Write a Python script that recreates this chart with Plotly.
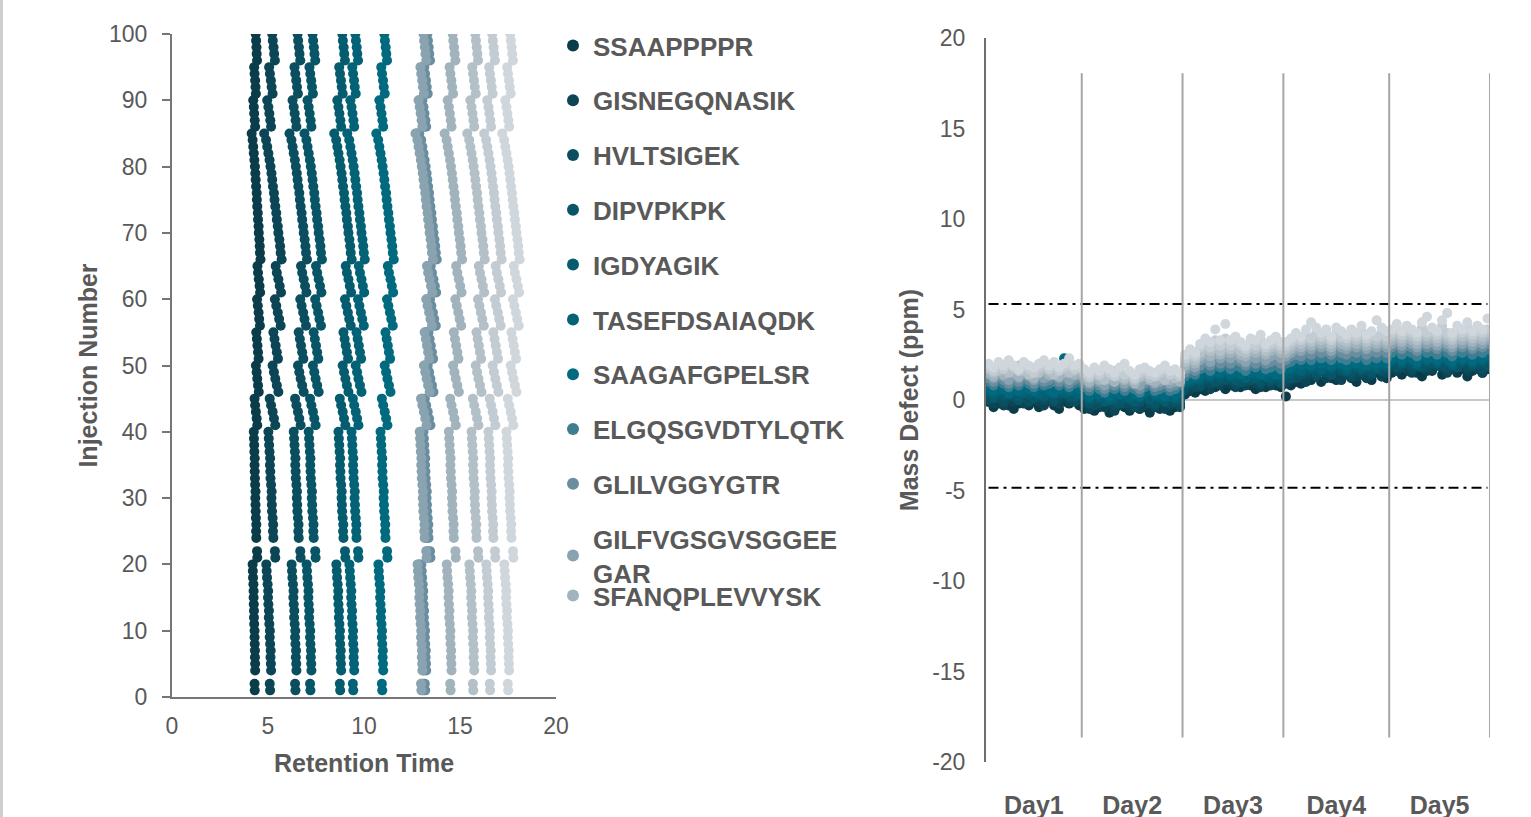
import plotly.graph_objects as go

# ---------------- categories / labels ----------------
peptides = ["SSAAPPPPR", "GISNEGQNASIK", "HVLTSIGEK", "DIPVPKPK", "IGDYAGIK",
            "TASEFDSAIAQDK", "SAAGAFGPELSR", "ELGQSGVDTYLQTK", "GLILVGGYGTR",
            "GILFVGSGVSGGEEGAR", "SFANQPLEVVYSK", "Peptide 12", "Peptide 13", "Peptide 14"]
legend_labels = ["SSAAPPPPR", "GISNEGQNASIK", "HVLTSIGEK", "DIPVPKPK", "IGDYAGIK",
                 "TASEFDSAIAQDK", "SAAGAFGPELSR", "ELGQSGVDTYLQTK", "GLILVGGYGTR",
                 "GILFVGSGVSGGEE<br>GAR", "SFANQPLEVVYSK", "Peptide 12", "Peptide 13", "Peptide 14"]
in_legend = [True, True, True, True, True, True, True, True, True, True, True, False, False, False]
legend_box = ["legend", "legend", "legend", "legend", "legend", "legend", "legend", "legend",
              "legend", "legend", "legend2", "legend", "legend", "legend"]
colors = ["#0b3c4a", "#0c4656", "#0a4e60", "#085567", "#065c6f", "#046277", "#026a7f",
          "#3d7e92", "#6a8e9f", "#8aa3b0", "#a1b3bd", "#b3c0c8", "#c2ccd2", "#d0d7dc"]

# injection numbers (left chart; injections 3 and 23 absent)
injection_rt = [1, 2, 4, 5, 6, 7, 8, 9, 10, 11, 12, 13, 14, 15, 16, 17, 18, 19, 20, 21, 22,
                24, 25, 26, 27, 28, 29, 30, 31, 32, 33, 34, 35, 36, 37, 38, 39, 40,
                41, 42, 43, 44, 45, 46, 47, 48, 49, 50, 51, 52, 53, 54, 55, 56, 57, 58, 59, 60,
                61, 62, 63, 64, 65, 66, 67, 68, 69, 70, 71, 72, 73, 74, 75, 76, 77, 78, 79, 80,
                81, 82, 83, 84, 85, 86, 87, 88, 89, 90, 91, 92, 93, 94, 95, 96, 97, 98, 99, 100]

# injection numbers (right chart)
injection_md = [1, 2, 3, 4, 5, 6, 7, 8, 9, 10, 11, 12, 13, 14, 15, 16, 17, 18, 19, 20,
                21, 22, 23, 24, 25, 26, 27, 28, 29, 30, 31, 32, 33, 34, 35, 36, 37, 38, 39, 40,
                41, 42, 43, 44, 45, 46, 47, 48, 49, 50, 51, 52, 53, 54, 55, 56, 57, 58, 59, 60,
                61, 62, 63, 64, 65, 66, 67, 68, 69, 70, 71, 72, 73, 74, 75, 76, 77, 78, 79, 80,
                81, 82, 83, 84, 85, 86, 87, 88, 89, 90, 91, 92, 93, 94, 95, 96, 97, 98, 99, 100]

# ---------------- retention times (min) ----------------
rt_1 = [4.31, 4.30,
        4.33, 4.33, 4.32, 4.32, 4.31, 4.30, 4.30, 4.28, 4.27, 4.27, 4.26, 4.25, 4.25, 4.24, 4.22, 4.21, 4.20,
        4.44, 4.43,
        4.39, 4.38, 4.39, 4.37, 4.36, 4.35, 4.34, 4.35, 4.33, 4.32, 4.31, 4.30, 4.31, 4.29, 4.28, 4.27, 4.26,
        4.44, 4.41, 4.37, 4.33, 4.30,
        4.52, 4.48, 4.44, 4.41, 4.37,
        4.51, 4.48, 4.45, 4.42, 4.39,
        4.58, 4.54, 4.51, 4.47, 4.43,
        4.59, 4.56, 4.52, 4.48, 4.45,
        4.61, 4.58, 4.57, 4.55, 4.52, 4.51, 4.48, 4.47, 4.44, 4.42, 4.41, 4.38, 4.36, 4.34, 4.32, 4.29, 4.26, 4.23, 4.20, 4.15,
        4.33, 4.31, 4.28, 4.26, 4.23,
        4.37, 4.35, 4.33, 4.30, 4.28,
        4.43, 4.41, 4.40, 4.38, 4.36]
rt_2 = [5.11, 5.09,
        5.16, 5.15, 5.13, 5.14, 5.11, 5.09, 5.10, 5.07, 5.04, 5.05, 5.02, 5.00, 5.01, 4.98, 4.95, 4.93, 4.91,
        5.38, 5.36,
        5.28, 5.26, 5.27, 5.24, 5.21, 5.20, 5.18, 5.19, 5.16, 5.13, 5.12, 5.10, 5.11, 5.08, 5.06, 5.04, 5.02,
        5.38, 5.31, 5.24, 5.16, 5.09,
        5.54, 5.46, 5.38, 5.31, 5.24,
        5.52, 5.46, 5.40, 5.34, 5.28,
        5.66, 5.58, 5.51, 5.43, 5.36,
        5.68, 5.61, 5.54, 5.46, 5.40,
        5.71, 5.66, 5.63, 5.59, 5.54, 5.51, 5.46, 5.43, 5.38, 5.34, 5.31, 5.26, 5.22, 5.18, 5.13, 5.08, 5.02, 4.96, 4.90, 4.80,
        5.16, 5.12, 5.07, 5.02, 4.96,
        5.24, 5.19, 5.15, 5.10, 5.06,
        5.36, 5.32, 5.29, 5.25, 5.22]
rt_3 = [6.43, 6.41,
        6.48, 6.47, 6.45, 6.46, 6.43, 6.41, 6.42, 6.39, 6.36, 6.37, 6.34, 6.32, 6.33, 6.30, 6.27, 6.25, 6.23,
        6.70, 6.68,
        6.60, 6.58, 6.59, 6.56, 6.53, 6.52, 6.50, 6.51, 6.48, 6.45, 6.44, 6.42, 6.43, 6.40, 6.38, 6.36, 6.34,
        6.70, 6.63, 6.56, 6.48, 6.41,
        6.86, 6.78, 6.70, 6.63, 6.56,
        6.84, 6.78, 6.72, 6.66, 6.60,
        6.98, 6.90, 6.83, 6.75, 6.68,
        7.00, 6.93, 6.86, 6.78, 6.72,
        7.03, 6.98, 6.95, 6.91, 6.86, 6.83, 6.78, 6.75, 6.70, 6.66, 6.63, 6.58, 6.54, 6.50, 6.45, 6.40, 6.34, 6.28, 6.22, 6.12,
        6.48, 6.44, 6.39, 6.34, 6.28,
        6.56, 6.51, 6.47, 6.42, 6.38,
        6.68, 6.64, 6.61, 6.57, 6.54]
rt_4 = [7.21, 7.19,
        7.26, 7.25, 7.23, 7.24, 7.21, 7.19, 7.20, 7.17, 7.14, 7.15, 7.12, 7.10, 7.11, 7.08, 7.05, 7.03, 7.01,
        7.48, 7.46,
        7.38, 7.36, 7.37, 7.34, 7.31, 7.30, 7.28, 7.29, 7.26, 7.23, 7.22, 7.20, 7.21, 7.18, 7.16, 7.14, 7.12,
        7.48, 7.41, 7.34, 7.26, 7.19,
        7.64, 7.56, 7.48, 7.41, 7.34,
        7.62, 7.56, 7.50, 7.44, 7.38,
        7.76, 7.68, 7.61, 7.53, 7.46,
        7.78, 7.71, 7.64, 7.56, 7.50,
        7.81, 7.76, 7.73, 7.69, 7.64, 7.61, 7.56, 7.53, 7.48, 7.44, 7.41, 7.36, 7.32, 7.28, 7.23, 7.18, 7.12, 7.06, 7.00, 6.90,
        7.26, 7.22, 7.17, 7.12, 7.06,
        7.34, 7.29, 7.25, 7.20, 7.16,
        7.46, 7.42, 7.39, 7.35, 7.32]
rt_5 = [8.76, 8.74,
        8.81, 8.80, 8.78, 8.79, 8.76, 8.74, 8.75, 8.72, 8.69, 8.70, 8.67, 8.65, 8.66, 8.63, 8.60, 8.58, 8.56,
        9.03, 9.01,
        8.93, 8.91, 8.92, 8.89, 8.86, 8.85, 8.83, 8.84, 8.81, 8.78, 8.77, 8.75, 8.76, 8.73, 8.71, 8.69, 8.67,
        9.03, 8.96, 8.89, 8.81, 8.74,
        9.19, 9.11, 9.03, 8.96, 8.89,
        9.17, 9.11, 9.05, 8.99, 8.93,
        9.31, 9.23, 9.16, 9.08, 9.01,
        9.33, 9.26, 9.19, 9.11, 9.05,
        9.36, 9.31, 9.28, 9.24, 9.19, 9.16, 9.11, 9.08, 9.03, 8.99, 8.96, 8.91, 8.87, 8.83, 8.78, 8.73, 8.67, 8.61, 8.55, 8.45,
        8.81, 8.77, 8.72, 8.67, 8.61,
        8.89, 8.84, 8.80, 8.75, 8.71,
        9.01, 8.97, 8.94, 8.90, 8.87]
rt_6 = [9.44, 9.42,
        9.49, 9.48, 9.46, 9.47, 9.44, 9.42, 9.43, 9.40, 9.37, 9.38, 9.35, 9.33, 9.34, 9.31, 9.28, 9.26, 9.24,
        9.71, 9.69,
        9.61, 9.59, 9.60, 9.57, 9.54, 9.53, 9.51, 9.52, 9.49, 9.46, 9.45, 9.43, 9.44, 9.41, 9.39, 9.37, 9.35,
        9.71, 9.64, 9.57, 9.49, 9.42,
        9.87, 9.79, 9.71, 9.64, 9.57,
        9.85, 9.79, 9.73, 9.67, 9.61,
        9.99, 9.91, 9.84, 9.76, 9.69,
        10.01, 9.94, 9.87, 9.79, 9.73,
        10.04, 9.99, 9.96, 9.92, 9.87, 9.84, 9.79, 9.76, 9.71, 9.67, 9.64, 9.59, 9.55, 9.51, 9.46, 9.41, 9.35, 9.29, 9.23, 9.13,
        9.49, 9.45, 9.40, 9.35, 9.29,
        9.57, 9.52, 9.48, 9.43, 9.39,
        9.69, 9.65, 9.62, 9.58, 9.55]
rt_7 = [10.95, 10.93,
        11.00, 10.99, 10.97, 10.98, 10.95, 10.93, 10.94, 10.91, 10.88, 10.89, 10.86, 10.84, 10.85, 10.82, 10.79, 10.77, 10.75,
        11.22, 11.20,
        11.12, 11.10, 11.11, 11.08, 11.05, 11.04, 11.02, 11.03, 11.00, 10.97, 10.96, 10.94, 10.95, 10.92, 10.90, 10.88, 10.86,
        11.22, 11.15, 11.08, 11.00, 10.93,
        11.38, 11.30, 11.22, 11.15, 11.08,
        11.36, 11.30, 11.24, 11.18, 11.12,
        11.50, 11.42, 11.35, 11.27, 11.20,
        11.52, 11.45, 11.38, 11.30, 11.24,
        11.55, 11.50, 11.47, 11.43, 11.38, 11.35, 11.30, 11.27, 11.22, 11.18, 11.15, 11.10, 11.06, 11.02, 10.97, 10.92, 10.86, 10.80, 10.74, 10.64,
        11.00, 10.96, 10.91, 10.86, 10.80,
        11.08, 11.03, 10.99, 10.94, 10.90,
        11.20, 11.16, 11.13, 11.09, 11.06]
rt_8 = [13.06, 13.04,
        13.11, 13.10, 13.08, 13.09, 13.06, 13.04, 13.05, 13.02, 12.99, 13.00, 12.97, 12.95, 12.96, 12.93, 12.90, 12.88, 12.86,
        13.33, 13.31,
        13.23, 13.21, 13.22, 13.19, 13.16, 13.15, 13.13, 13.14, 13.11, 13.08, 13.07, 13.05, 13.06, 13.03, 13.01, 12.99, 12.97,
        13.33, 13.26, 13.19, 13.11, 13.04,
        13.49, 13.41, 13.33, 13.26, 13.19,
        13.47, 13.41, 13.35, 13.29, 13.23,
        13.61, 13.53, 13.46, 13.38, 13.31,
        13.63, 13.56, 13.49, 13.41, 13.35,
        13.66, 13.61, 13.58, 13.54, 13.49, 13.46, 13.41, 13.38, 13.33, 13.29, 13.26, 13.21, 13.17, 13.13, 13.08, 13.03, 12.97, 12.91, 12.85, 12.75,
        13.11, 13.07, 13.02, 12.97, 12.91,
        13.19, 13.14, 13.10, 13.05, 13.01,
        13.31, 13.27, 13.24, 13.20, 13.17]
rt_9 = [13.19, 13.17,
        13.24, 13.23, 13.21, 13.22, 13.19, 13.17, 13.18, 13.15, 13.12, 13.13, 13.10, 13.08, 13.09, 13.06, 13.03, 13.01, 12.99,
        13.46, 13.44,
        13.36, 13.34, 13.35, 13.32, 13.29, 13.28, 13.26, 13.27, 13.24, 13.21, 13.20, 13.18, 13.19, 13.16, 13.14, 13.12, 13.10,
        13.46, 13.39, 13.32, 13.24, 13.17,
        13.62, 13.54, 13.46, 13.39, 13.32,
        13.60, 13.54, 13.48, 13.42, 13.36,
        13.74, 13.66, 13.59, 13.51, 13.44,
        13.76, 13.69, 13.62, 13.54, 13.48,
        13.79, 13.74, 13.71, 13.67, 13.62, 13.59, 13.54, 13.51, 13.46, 13.42, 13.39, 13.34, 13.30, 13.26, 13.21, 13.16, 13.10, 13.04, 12.98, 12.88,
        13.24, 13.20, 13.15, 13.10, 13.04,
        13.32, 13.27, 13.23, 13.18, 13.14,
        13.44, 13.40, 13.37, 13.33, 13.30]
rt_10 = [12.99, 12.97,
         13.04, 13.03, 13.01, 13.02, 12.99, 12.97, 12.98, 12.95, 12.92, 12.93, 12.90, 12.88, 12.89, 12.86, 12.83, 12.81, 12.79,
         13.26, 13.24,
         13.16, 13.14, 13.15, 13.12, 13.09, 13.08, 13.06, 13.07, 13.04, 13.01, 13.00, 12.98, 12.99, 12.96, 12.94, 12.92, 12.90,
         13.26, 13.19, 13.12, 13.04, 12.97,
         13.42, 13.34, 13.26, 13.19, 13.12,
         13.40, 13.34, 13.28, 13.22, 13.16,
         13.54, 13.46, 13.39, 13.31, 13.24,
         13.56, 13.49, 13.42, 13.34, 13.28,
         13.59, 13.54, 13.51, 13.47, 13.42, 13.39, 13.34, 13.31, 13.26, 13.22, 13.19, 13.14, 13.10, 13.06, 13.01, 12.96, 12.90, 12.84, 12.78, 12.68,
         13.04, 13.00, 12.95, 12.90, 12.84,
         13.12, 13.07, 13.03, 12.98, 12.94,
         13.24, 13.20, 13.17, 13.13, 13.10]
rt_11 = [14.51, 14.49,
         14.56, 14.55, 14.53, 14.54, 14.51, 14.49, 14.50, 14.47, 14.44, 14.45, 14.42, 14.40, 14.41, 14.38, 14.35, 14.33, 14.31,
         14.78, 14.76,
         14.68, 14.66, 14.67, 14.64, 14.61, 14.60, 14.58, 14.59, 14.56, 14.53, 14.52, 14.50, 14.51, 14.48, 14.46, 14.44, 14.42,
         14.78, 14.71, 14.64, 14.56, 14.49,
         14.94, 14.86, 14.78, 14.71, 14.64,
         14.92, 14.86, 14.80, 14.74, 14.68,
         15.06, 14.98, 14.91, 14.83, 14.76,
         15.08, 15.01, 14.94, 14.86, 14.80,
         15.11, 15.06, 15.03, 14.99, 14.94, 14.91, 14.86, 14.83, 14.78, 14.74, 14.71, 14.66, 14.62, 14.58, 14.53, 14.48, 14.42, 14.36, 14.30, 14.20,
         14.56, 14.52, 14.47, 14.42, 14.36,
         14.64, 14.59, 14.55, 14.50, 14.46,
         14.76, 14.72, 14.69, 14.65, 14.62]
rt_12 = [15.69, 15.67,
         15.74, 15.73, 15.71, 15.72, 15.69, 15.67, 15.68, 15.65, 15.62, 15.63, 15.60, 15.58, 15.59, 15.56, 15.53, 15.51, 15.49,
         15.96, 15.94,
         15.86, 15.84, 15.85, 15.82, 15.79, 15.78, 15.76, 15.77, 15.74, 15.71, 15.70, 15.68, 15.69, 15.66, 15.64, 15.62, 15.60,
         15.96, 15.89, 15.82, 15.74, 15.67,
         16.12, 16.04, 15.96, 15.89, 15.82,
         16.10, 16.04, 15.98, 15.92, 15.86,
         16.24, 16.16, 16.09, 16.01, 15.94,
         16.26, 16.19, 16.12, 16.04, 15.98,
         16.29, 16.24, 16.21, 16.17, 16.12, 16.09, 16.04, 16.01, 15.96, 15.92, 15.89, 15.84, 15.80, 15.76, 15.71, 15.66, 15.60, 15.54, 15.48, 15.38,
         15.74, 15.70, 15.65, 15.60, 15.54,
         15.82, 15.77, 15.73, 15.68, 15.64,
         15.94, 15.90, 15.87, 15.83, 15.80]
rt_13 = [16.57, 16.55,
         16.62, 16.61, 16.59, 16.60, 16.57, 16.55, 16.56, 16.53, 16.50, 16.51, 16.48, 16.46, 16.47, 16.44, 16.41, 16.39, 16.37,
         16.84, 16.82,
         16.74, 16.72, 16.73, 16.70, 16.67, 16.66, 16.64, 16.65, 16.62, 16.59, 16.58, 16.56, 16.57, 16.54, 16.52, 16.50, 16.48,
         16.84, 16.77, 16.70, 16.62, 16.55,
         17.00, 16.92, 16.84, 16.77, 16.70,
         16.98, 16.92, 16.86, 16.80, 16.74,
         17.12, 17.04, 16.97, 16.89, 16.82,
         17.14, 17.07, 17.00, 16.92, 16.86,
         17.17, 17.12, 17.09, 17.05, 17.00, 16.97, 16.92, 16.89, 16.84, 16.80, 16.77, 16.72, 16.68, 16.64, 16.59, 16.54, 16.48, 16.42, 16.36, 16.26,
         16.62, 16.58, 16.53, 16.48, 16.42,
         16.70, 16.65, 16.61, 16.56, 16.52,
         16.82, 16.78, 16.75, 16.71, 16.68]
rt_14 = [17.51, 17.49,
         17.56, 17.55, 17.53, 17.54, 17.51, 17.49, 17.50, 17.47, 17.44, 17.45, 17.42, 17.40, 17.41, 17.38, 17.35, 17.33, 17.31,
         17.78, 17.76,
         17.68, 17.66, 17.67, 17.64, 17.61, 17.60, 17.58, 17.59, 17.56, 17.53, 17.52, 17.50, 17.51, 17.48, 17.46, 17.44, 17.42,
         17.78, 17.71, 17.64, 17.56, 17.49,
         17.94, 17.86, 17.78, 17.71, 17.64,
         17.92, 17.86, 17.80, 17.74, 17.68,
         18.06, 17.98, 17.91, 17.83, 17.76,
         18.08, 18.01, 17.94, 17.86, 17.80,
         18.11, 18.06, 18.03, 17.99, 17.94, 17.91, 17.86, 17.83, 17.78, 17.74, 17.71, 17.66, 17.62, 17.58, 17.53, 17.48, 17.42, 17.36, 17.30, 17.20,
         17.56, 17.52, 17.47, 17.42, 17.36,
         17.64, 17.59, 17.55, 17.50, 17.46,
         17.76, 17.72, 17.69, 17.65, 17.62]

# ---------------- mass defect (ppm), Day1..Day5 ----------------
md_1 = [-0.1, -0.4, -0.2, 0.1, -0.3, -0.5, -0.2, 0.0, -0.3, -0.1, -0.4, -0.2, 0.1, -0.3, -0.5, -0.1, -0.2, 0.0, -0.3,
        -0.5, -0.2, -0.6, -0.4, -0.3, -0.7, -0.5, -0.2, -0.4, -0.6, -0.3, -0.5, -0.4, -0.7, -0.2, -0.5, -0.3, -0.6, -0.4, -0.2,
        0.3, 0.5, 0.4, 0.6, 0.5, 0.8, 0.7, 0.9, 0.6, 0.8, 1.0, 0.7, 0.9, 0.8, 0.6, 0.9, 0.7, 1.0, 0.8, 0.7,
        0.2, 0.8, 1.0, 0.9, 1.2, 1.1, 1.3, 1.0, 1.4, 1.2, 1.1, 1.3, 1.5, 1.2, 1.0, 1.4, 1.3, 1.1, 1.5, 1.3, 1.2,
        1.5, 1.7, 1.4, 1.6, 1.8, 1.5, 1.3, 1.7, 1.6, 1.9, 1.4, 1.6, 1.8, 1.5, 1.7, 1.3, 1.6, 1.8, 1.5, 1.7]
md_2 = [0.1, -0.2, 0.0, -0.3, 0.2, -0.1, 0.1, -0.2, 0.0, 0.3, -0.1, -0.3, 0.0, 0.2, -0.2, 0.1, -0.1, 0.2, 0.0,
        -0.2, -0.5, -0.1, -0.3, -0.4, -0.2, -0.6, -0.3, -0.1, -0.4, -0.2, -0.5, -0.3, -0.1, -0.4, -0.2, -0.5, -0.3, -0.2, -0.4,
        0.5, 0.6, 0.8, 0.7, 0.9, 0.6, 1.0, 0.8, 1.1, 0.9, 0.7, 1.0, 0.8, 1.1, 0.9, 0.7, 1.0, 0.8, 1.1, 0.9,
        0.9, 1.1, 1.3, 1.2, 1.0, 1.4, 1.3, 1.6, 1.2, 1.5, 1.3, 1.1, 1.4, 1.6, 1.3, 1.5, 1.2, 1.4, 1.7, 1.3, 1.5,
        1.8, 1.6, 1.9, 1.7, 1.5, 1.8, 2.0, 1.6, 1.7, 1.9, 1.8, 1.5, 1.7, 2.0, 1.8, 1.6, 1.9, 1.7, 1.5, 1.8]
md_3 = [0.0, 0.3, 0.1, -0.1, 0.2, 0.4, 0.0, 0.2, -0.1, 0.1, 0.3, 0.0, 0.2, -0.1, 0.1, 0.3, 0.1, -0.1, 0.2,
        -0.1, 0.0, -0.3, -0.2, 0.1, -0.1, -0.3, 0.0, -0.2, -0.1, -0.4, -0.1, 0.1, -0.2, -0.3, 0.0, -0.1, -0.2, 0.0, -0.3,
        0.6, 0.8, 0.7, 0.9, 1.1, 0.9, 1.2, 1.0, 1.3, 1.1, 0.9, 1.2, 1.0, 1.3, 1.1, 0.9, 1.2, 1.0, 1.1, 0.9,
        1.1, 1.3, 1.2, 1.5, 1.4, 1.6, 1.3, 1.7, 1.5, 1.4, 1.6, 1.8, 1.5, 1.3, 1.7, 1.5, 1.6, 1.4, 1.8, 1.6, 1.5,
        1.9, 2.1, 1.8, 2.0, 1.7, 1.9, 2.2, 1.8, 2.0, 1.9, 2.1, 1.7, 1.9, 2.2, 2.0, 1.8, 2.1, 1.9, 1.7, 2.0]
md_4 = [0.3, 0.1, 0.4, 0.2, 0.5, 0.2, 0.0, 0.3, 0.4, 0.1, 0.3, 0.5, 0.2, 0.0, 0.3, 0.4, 0.2, 0.5, 0.3,
        0.1, -0.2, 0.0, 0.2, -0.1, 0.1, 0.0, -0.2, 0.2, 0.0, 0.1, -0.1, 0.2, 0.0, -0.2, 0.1, 0.0, 0.2, -0.1, 0.1,
        0.7, 0.9, 1.0, 0.8, 1.1, 1.2, 1.0, 1.3, 1.1, 1.4, 1.2, 1.0, 1.3, 1.1, 1.2, 1.0, 1.3, 1.1, 1.2, 1.0,
        1.3, 1.2, 1.5, 1.4, 1.6, 1.8, 1.5, 1.7, 1.6, 1.4, 1.8, 1.6, 1.7, 1.5, 1.9, 1.6, 1.7, 1.5, 1.8, 1.6, 1.7,
        2.0, 1.8, 2.1, 2.3, 1.9, 2.0, 1.8, 2.2, 2.0, 2.1, 1.9, 2.2, 2.0, 1.8, 2.1, 2.3, 1.9, 2.0, 2.2, 1.9]
md_5 = [0.4, 0.2, 0.5, 0.3, 0.6, 0.4, 0.2, 0.5, 0.3, 0.6, 1.9, 0.2, 0.5, 0.3, 0.4, 0.6, 0.3, 0.2, 0.4,
        0.2, 0.0, 0.3, 0.1, -0.1, 0.2, 0.0, 0.3, 0.1, 0.2, -0.1, 0.1, 0.3, 0.0, 0.2, 0.1, -0.1, 0.2, 0.3, 0.0,
        0.9, 1.0, 1.2, 1.1, 1.3, 1.2, 1.4, 1.2, 1.5, 1.3, 1.1, 1.4, 1.3, 1.5, 1.2, 1.4, 1.3, 1.2, 1.4, 1.3,
        1.4, 1.5, 1.7, 1.6, 1.8, 1.7, 1.9, 1.6, 1.8, 1.7, 2.0, 1.8, 1.6, 1.9, 1.8, 1.7, 2.0, 1.8, 1.7, 1.9, 1.8,
        2.1, 2.3, 2.0, 2.2, 2.1, 1.9, 2.3, 2.1, 2.2, 2.0, 2.4, 2.1, 1.9, 2.2, 2.1, 2.3, 2.0, 2.2, 2.1, 2.3]
md_6 = [0.6, 0.4, 0.5, 0.7, 0.3, 0.5, 0.6, 0.4, 0.7, 0.5, 0.3, 0.6, 0.4, 0.5, 0.7, 0.4, 0.6, 0.5, 0.3,
        0.3, 0.1, 0.4, 0.2, 0.3, 0.0, 0.2, 0.4, 0.3, 0.1, 0.3, 0.2, 0.4, 1.3, 0.3, 0.2, 0.4, 0.2, 0.1, 0.3,
        1.0, 1.1, 1.3, 1.2, 1.4, 1.3, 1.5, 1.4, 1.6, 1.3, 1.5, 1.4, 1.2, 1.5, 1.4, 1.6, 1.3, 1.5, 1.4, 1.3,
        1.6, 1.7, 1.8, 1.6, 1.9, 1.8, 2.0, 1.7, 1.9, 1.8, 2.1, 1.9, 1.7, 2.0, 1.9, 1.8, 2.1, 1.9, 1.8, 2.0, 1.9,
        2.2, 2.4, 2.1, 2.3, 2.2, 2.0, 2.4, 2.2, 2.3, 2.1, 2.5, 2.2, 2.0, 2.3, 2.2, 2.4, 2.1, 2.3, 2.2, 2.4]
md_7 = [0.7, 0.5, 0.8, 0.6, 0.4, 0.7, 0.5, 0.8, 0.6, 0.5, 0.7, 0.9, 0.6, 0.4, 0.6, 2.3, 0.5, 0.7, 0.6,
        0.4, 0.2, 0.5, 0.3, 0.4, 0.2, 0.5, 0.3, 0.4, 0.6, 0.3, 0.2, 0.4, 0.5, 0.3, 0.4, 0.2, 0.5, 0.3, 0.4,
        1.1, 1.3, 1.2, 1.4, 1.5, 1.4, 1.6, 1.5, 1.7, 1.5, 1.6, 1.4, 1.6, 1.5, 1.7, 1.4, 1.5, 1.6, 1.4, 1.5,
        1.7, 1.8, 2.0, 1.9, 2.1, 1.9, 2.2, 2.0, 2.1, 1.9, 2.2, 2.0, 1.9, 2.1, 2.0, 2.2, 1.9, 2.1, 2.0, 2.2, 2.0,
        2.3, 2.5, 2.2, 2.4, 2.3, 2.1, 2.5, 2.3, 2.4, 2.2, 2.6, 2.3, 2.1, 2.4, 2.3, 2.5, 2.2, 2.4, 2.3, 2.5]
md_8 = [1.0, 0.8, 1.1, 0.9, 0.7, 1.0, 0.8, 1.1, 0.9, 0.7, 1.0, 0.8, 0.9, 1.1, 0.8, 1.0, 0.7, 0.9, 1.0,
        0.7, 0.5, 0.8, 0.6, 0.4, 0.7, 0.6, 0.8, 0.5, 0.7, 0.6, 0.4, 0.7, 0.8, 0.5, 0.6, 0.7, 0.5, 0.6, 0.8,
        1.3, 1.5, 1.4, 1.7, 1.8, 1.6, 1.9, 1.8, 2.0, 1.7, 1.9, 1.8, 1.6, 1.9, 1.8, 2.0, 1.7, 1.8, 1.9, 1.7,
        2.0, 2.1, 2.3, 2.2, 2.4, 2.2, 2.5, 2.3, 2.4, 2.2, 2.5, 2.3, 2.2, 2.4, 2.3, 2.5, 2.2, 2.4, 2.3, 2.5, 2.3,
        2.6, 2.8, 2.5, 2.7, 2.6, 2.4, 2.8, 2.6, 2.7, 2.5, 2.9, 2.6, 2.4, 2.7, 2.6, 2.8, 2.5, 2.7, 2.6, 2.8]
md_9 = [1.2, 1.0, 1.3, 1.1, 0.9, 1.2, 1.0, 1.3, 1.1, 0.9, 1.2, 1.0, 1.1, 1.3, 1.0, 1.2, 0.9, 1.1, 1.2,
        0.9, 0.7, 1.0, 0.8, 0.6, 0.9, 0.8, 1.0, 0.7, 0.9, 0.8, 0.6, 0.9, 1.0, 0.7, 0.8, 0.9, 0.7, 0.8, 1.0,
        1.5, 1.7, 1.6, 1.9, 2.1, 1.9, 2.2, 2.0, 2.3, 2.0, 2.2, 2.1, 1.9, 2.2, 2.0, 2.3, 2.0, 2.1, 2.2, 2.0,
        2.2, 2.4, 2.5, 2.4, 2.7, 2.5, 2.8, 2.6, 2.7, 2.5, 2.8, 2.6, 2.5, 2.7, 2.6, 2.8, 2.5, 2.7, 2.6, 2.8, 2.6,
        2.9, 3.1, 2.8, 3.0, 2.9, 2.7, 3.1, 2.9, 3.0, 2.8, 3.2, 2.9, 2.7, 3.0, 2.9, 3.1, 2.8, 3.0, 2.9, 3.1]
md_10 = [1.4, 1.2, 1.5, 1.3, 1.1, 1.4, 1.2, 1.5, 1.3, 1.1, 1.4, 1.2, 1.3, 1.5, 1.2, 1.4, 1.1, 1.3, 1.4,
         1.1, 0.9, 1.2, 1.0, 0.8, 1.1, 1.0, 1.2, 0.9, 1.1, 1.0, 0.8, 1.1, 1.2, 0.9, 1.0, 1.1, 0.9, 1.0, 1.2,
         1.7, 1.9, 1.8, 2.2, 2.4, 2.1, 2.5, 2.3, 2.6, 2.3, 2.5, 2.3, 2.1, 2.4, 2.3, 2.6, 2.2, 2.4, 2.5, 2.3,
         2.4, 2.6, 2.8, 2.7, 3.0, 2.8, 3.1, 2.9, 3.0, 2.7, 3.1, 2.9, 2.8, 3.0, 2.9, 3.1, 2.8, 3.0, 2.9, 3.1, 2.9,
         3.1, 3.3, 3.0, 3.2, 3.1, 2.9, 3.4, 3.1, 3.2, 3.0, 3.4, 3.1, 2.9, 3.2, 3.1, 3.3, 3.0, 3.2, 3.1, 3.3]
md_11 = [1.5, 1.3, 1.6, 1.4, 1.7, 1.5, 1.3, 1.6, 1.4, 1.2, 1.5, 1.7, 1.4, 1.6, 1.3, 1.5, 1.6, 1.4, 1.5,
         1.2, 1.0, 1.3, 1.1, 1.4, 1.2, 1.0, 1.3, 1.1, 1.2, 0.9, 1.2, 1.3, 1.1, 1.0, 1.2, 1.4, 1.1, 1.2, 1.0,
         1.9, 2.2, 2.0, 2.4, 2.6, 2.4, 2.8, 2.5, 2.9, 2.6, 2.8, 2.5, 2.4, 2.7, 2.6, 2.9, 2.5, 2.7, 2.8, 2.6,
         2.6, 2.8, 3.0, 2.9, 3.2, 3.0, 3.3, 3.1, 3.2, 2.9, 3.3, 3.1, 3.0, 3.2, 3.1, 3.4, 3.0, 3.2, 3.1, 3.3, 3.1,
         3.3, 3.5, 3.2, 3.4, 3.3, 3.1, 3.6, 3.3, 3.4, 3.2, 3.6, 3.3, 3.1, 3.4, 3.3, 3.5, 3.2, 3.4, 3.3, 3.5]
md_12 = [1.7, 1.5, 1.6, 1.8, 1.5, 1.7, 1.9, 1.6, 1.4, 1.7, 1.5, 1.8, 1.6, 1.4, 1.7, 1.9, 1.5, 1.6, 1.8,
         1.4, 1.2, 1.5, 1.3, 1.1, 1.4, 1.6, 1.3, 1.2, 1.4, 1.1, 1.3, 1.5, 1.2, 1.4, 1.3, 1.1, 1.4, 1.2, 1.5,
         2.1, 2.4, 2.2, 2.6, 2.9, 2.7, 3.0, 2.7, 3.1, 2.8, 3.0, 2.7, 2.6, 2.9, 2.8, 3.1, 2.7, 2.9, 3.0, 2.8,
         2.8, 3.0, 3.2, 3.1, 3.4, 3.2, 3.5, 3.3, 3.4, 3.1, 3.5, 3.3, 3.2, 3.5, 3.3, 3.6, 3.2, 3.4, 3.3, 3.5, 3.3,
         3.5, 3.7, 3.4, 3.6, 3.5, 3.3, 3.8, 3.5, 3.6, 3.4, 3.8, 3.5, 3.3, 3.6, 3.5, 3.7, 3.4, 3.6, 3.5, 3.7]
md_13 = [1.8, 1.6, 1.9, 1.7, 2.0, 1.8, 1.6, 1.9, 1.7, 1.5, 1.8, 2.0, 1.7, 1.9, 1.6, 1.8, 1.9, 1.7, 1.8,
         1.5, 1.3, 1.6, 1.4, 1.7, 1.5, 1.3, 1.6, 1.4, 1.5, 1.2, 1.5, 1.6, 1.4, 1.3, 1.5, 1.7, 1.4, 1.5, 1.3,
         2.3, 2.6, 2.4, 2.9, 3.1, 2.9, 3.3, 3.0, 3.4, 3.0, 3.2, 3.0, 2.8, 3.1, 3.0, 3.3, 2.9, 3.1, 3.2, 3.0,
         3.0, 3.2, 3.4, 3.3, 3.6, 3.4, 3.7, 3.5, 3.6, 3.3, 3.7, 3.5, 3.4, 3.6, 3.5, 3.8, 3.4, 3.6, 3.5, 3.7, 3.5,
         3.7, 3.9, 3.6, 3.8, 3.7, 3.5, 4.0, 3.7, 3.8, 3.6, 4.1, 3.7, 3.5, 3.8, 3.7, 4.0, 3.6, 3.8, 3.7, 3.9]
md_14 = [2.0, 1.8, 2.1, 1.9, 2.2, 1.9, 1.7, 2.1, 1.9, 1.8, 2.0, 2.2, 1.9, 2.1, 1.8, 2.0, 2.3, 1.9, 2.0,
         1.7, 1.5, 1.8, 1.6, 1.9, 1.7, 1.5, 1.8, 2.0, 1.6, 1.4, 1.7, 1.8, 1.6, 1.5, 1.7, 1.9, 1.6, 1.7, 1.5,
         2.5, 2.8, 2.6, 3.1, 3.4, 3.2, 3.9, 3.3, 4.2, 3.3, 3.5, 3.2, 3.0, 3.4, 3.3, 3.6, 3.1, 3.3, 3.5, 3.2,
         3.2, 3.4, 3.7, 3.5, 3.9, 4.3, 4.0, 3.7, 3.9, 3.5, 4.0, 3.8, 3.6, 3.9, 3.7, 4.1, 3.6, 3.8, 4.4, 4.0, 3.8,
         3.9, 4.2, 3.8, 4.1, 3.9, 3.7, 4.3, 4.6, 4.0, 3.8, 4.4, 4.8, 3.7, 4.1, 3.9, 4.3, 3.8, 4.1, 3.9, 4.5]

rt_series = [rt_1, rt_2, rt_3, rt_4, rt_5, rt_6, rt_7, rt_8, rt_9, rt_10, rt_11, rt_12, rt_13, rt_14]
md_series = [md_1, md_2, md_3, md_4, md_5, md_6, md_7, md_8, md_9, md_10, md_11, md_12, md_13, md_14]

# reference lines / day structure of the right chart
limit_levels = [5.3, -4.85]
limit_span = [1, 100]
day_names = ["Day1", "Day2", "Day3", "Day4", "Day5"]
day_centers = [10, 29.5, 49.5, 70, 90.5]
day_bounds = [19.5, 39.5, 59.5, 80.5, 100.5]
day_line_span = [-18.65, 18.05]
md_ticks = [-20, -15, -10, -5, 0, 5, 10, 15, 20]
rt_ticks = [0, 5, 10, 15, 20]

# ---------------- figure ----------------
FONT = "Liberation Sans, Arial, sans-serif"
TXT = "#595959"
AX = "#767676"
W, H = 1531, 817

fig = go.Figure()

for i, name in enumerate(peptides):
    fig.add_trace(go.Scatter(
        x=rt_series[i], y=injection_rt, mode="markers", name=legend_labels[i],
        legendgroup=name, showlegend=in_legend[i], legend=legend_box[i],
        marker=dict(size=10, color=colors[i], line=dict(width=0)),
        xaxis="x", yaxis="y"))

for i, name in enumerate(peptides):
    fig.add_trace(go.Scatter(
        x=injection_md, y=md_series[i], mode="markers", name=legend_labels[i],
        legendgroup=name, showlegend=False,
        marker=dict(size=10, color=colors[i], line=dict(width=0)),
        xaxis="x2", yaxis="y2"))

for lv in limit_levels:
    fig.add_trace(go.Scatter(
        x=limit_span, y=[lv, lv], mode="lines", showlegend=False, hoverinfo="skip",
        line=dict(color="black", width=2, dash="10px,5px,3px,5px"),
        xaxis="x2", yaxis="y2"))

shapes = []
for b in day_bounds:
    shapes.append(dict(type="line", xref="x2", yref="y2", x0=b, x1=b,
                       y0=day_line_span[0], y1=day_line_span[1],
                       line=dict(color="#a6a6a6", width=2), layer="above"))
# outer frame edge at the far left of the canvas
shapes.append(dict(type="line", xref="paper", yref="paper", x0=1.5 / W, x1=1.5 / W,
                   y0=0, y1=1, line=dict(color="#cfcfcf", width=3)))

legend_font = dict(family=FONT, size=26, color=TXT, weight="bold")

fig.update_layout(
    template="none",
    width=W, height=H,
    margin=dict(l=0, r=0, t=0, b=0, autoexpand=False),
    paper_bgcolor="white", plot_bgcolor="white",
    font=dict(family=FONT, color=TXT, size=23),
    shapes=shapes,
    showlegend=True,
    hovermode="closest",
    legend=dict(
        x=553 / W, y=1 - 22 / H, xanchor="left", yanchor="top",
        font=legend_font, bgcolor="rgba(0,0,0,0)", borderwidth=0,
        traceorder="grouped", tracegroupgap=18, itemsizing="constant"),
    legend2=dict(
        x=553 / W, y=1 - 572 / H, xanchor="left", yanchor="top",
        font=legend_font, bgcolor="rgba(0,0,0,0)", borderwidth=0,
        itemsizing="constant"),
    xaxis=dict(
        anchor="y", domain=[172 / W, 556 / W], range=[0, 20], tickvals=rt_ticks,
        automargin=False,
        showline=True, linecolor=AX, linewidth=2, ticks="",
        showgrid=False, zeroline=False,
        tickfont=dict(size=23, color=TXT), ticklabelstandoff=7,
        title=dict(text="Retention Time", font=dict(size=25, color=TXT, weight="bold"), standoff=17)),
    yaxis=dict(
        anchor="x", domain=[(H - 697) / H, (H - 34) / H], range=[0, 100], dtick=10,
        automargin=False,
        showline=True, linecolor=AX, linewidth=2,
        ticks="outside", ticklen=8, tickwidth=2, tickcolor=AX,
        showgrid=False, zeroline=False,
        tickfont=dict(size=23, color=TXT), ticklabelstandoff=10,
        title=dict(text="Injection Number", font=dict(size=25, color=TXT, weight="bold"), standoff=4)),
    xaxis2=dict(
        anchor="y2", domain=[986 / W, 1490 / W], range=[0.5, 100.5],
        tickvals=day_centers, ticktext=day_names, automargin=False,
        showline=False, ticks="", showgrid=False, zeroline=False,
        tickfont=dict(size=25, color=TXT, weight="bold"), ticklabelstandoff=26),
    yaxis2=dict(
        anchor="x2", domain=[(H - 762) / H, (H - 38) / H], range=[-20, 20],
        tickvals=md_ticks, ticktext=[str(t) for t in md_ticks], automargin=False,
        showline=True, linecolor="#6f6f6f", linewidth=2, ticks="",
        showgrid=False, zeroline=True, zerolinecolor="#c8c8c8", zerolinewidth=2,
        tickfont=dict(size=23, color=TXT), ticklabelstandoff=14,
        title=dict(text="Mass Defect (ppm)", font=dict(size=25, color=TXT, weight="bold"), standoff=6)),
)

fig.write_html("out.html")
